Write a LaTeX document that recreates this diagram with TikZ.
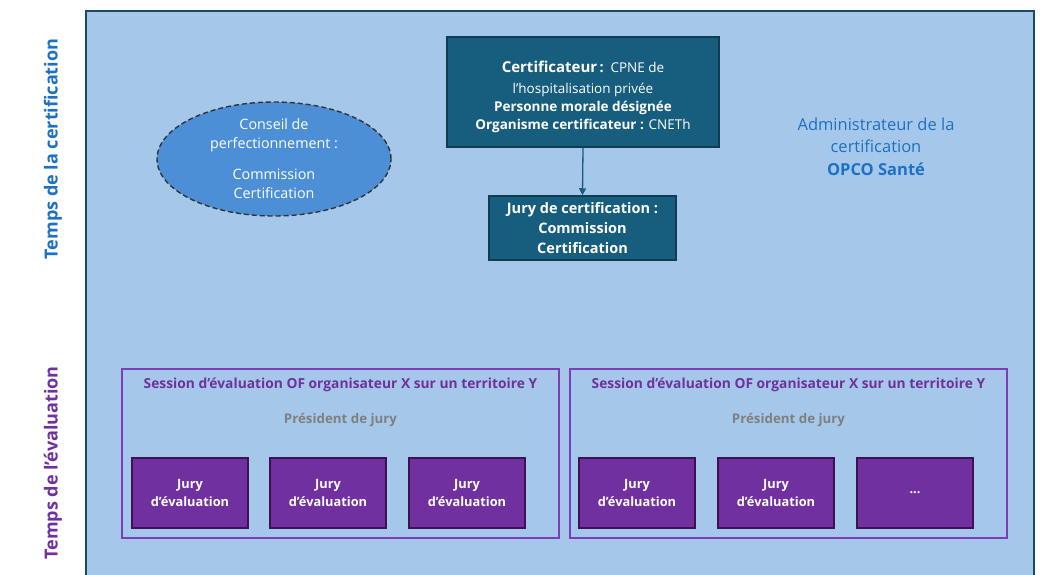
\documentclass[tikz,border=0pt]{standalone}
\usepackage{fontspec}
\setmainfont{Open Sans}
\usetikzlibrary{shapes.geometric,arrows.meta}
\definecolor{bgblue}{HTML}{A5C8EA}
\definecolor{frame}{HTML}{1A4A66}
\definecolor{certfill}{HTML}{175E7E}
\definecolor{certdraw}{HTML}{0F3D52}
\definecolor{ellfill}{HTML}{4D8FD6}
\definecolor{tblue}{HTML}{1E70C2}
\definecolor{purp}{HTML}{7030A0}
\definecolor{purpline}{HTML}{7E3DB8}
\definecolor{jurydraw}{HTML}{3E1155}
\definecolor{grey}{HTML}{7F7F7F}
\tikzset{
  certbox/.style={draw=certdraw, line width=1.5pt, fill=certfill, text=white, align=center, inner sep=0pt, font=\fontsize{13.5}{19}\selectfont},
  jurybox/.style={draw=jurydraw, line width=1.5pt, fill=purp, text=white, align=center, minimum width=116pt, minimum height=70pt, inner sep=0pt, font=\bfseries\fontsize{12.8}{18}\selectfont},
  sessionbox/.style={draw=purpline, line width=1.6pt, minimum width=437pt, minimum height=169pt, inner sep=0pt},
  sidelabel/.style={rotate=90, font=\bfseries\fontsize{18}{20}\selectfont},
}
\begin{document}
\begin{tikzpicture}[x=1pt,y=-1pt]
\useasboundingbox (0,0) rectangle (1045,574);
\clip (0,0) rectangle (1045,574);
\fill[white] (0,0) rectangle (1045,574);
\draw[draw=frame, fill=bgblue, line width=2pt] (86,11) rectangle (1034,590);
\node[sidelabel, text=tblue] (tcert) at (53,149) {Temps de la certification};
\node[sidelabel, text=purp] (teval) at (53,463) {Temps de l’évaluation};
% certificateur
\node[certbox, minimum width=272pt, minimum height=110pt] (cert) at (583,92) {};
\node[text=white, align=center, inner sep=0pt, font=\fontsize{13.5}{19}\selectfont] (certtext) at (583,97) {\textbf{\fontsize{15}{19}\selectfont Certificateur}\,\textbf{\Large :}\, CPNE de\\[2pt] l’hospitalisation privée\\[-1pt] \textbf{Personne morale désignée}\\[-1pt] \textbf{Organisme certificateur :} CNETh};
\node[certbox, minimum width=187pt, minimum height=64pt, font=\bfseries\fontsize{14.5}{20}\selectfont] (jcert) at (582.5,228) {Jury de certification :\\ Commission\\ Certification};
\draw[-{Triangle[length=7pt,width=7pt]}, draw=certfill, line width=1.3pt] (cert.south) -- (jcert.north);
% ellipse
\node[ellipse, draw=black!80, dashed, dash pattern=on 5pt off 3pt, line width=1.4pt, fill=ellfill, minimum width=234pt, minimum height=114pt, inner sep=0pt, text=white, align=center, font=\fontsize{14.3}{19}\selectfont] (conseil) at (274,159) {Conseil de\\ perfectionnement :\\[12pt] Commission\\ Certification};
% administrateur
\node[text=tblue, align=center, font=\fontsize{16.5}{22.5}\selectfont] (admin) at (876,146.5) {Administrateur de la\\ certification\\ \textbf{OPCO Santé}};
% sessions
\foreach \s/\cx in {1/340.5, 2/788.5} {
  \node[sessionbox] (sess\s) at (\cx,453.5) {};
  \node[text=purp, font=\bfseries\fontsize{13.8}{15}\selectfont] (stitle\s) at (\cx,384.5) {Session d’évaluation OF organisateur X sur un territoire Y};
  \node[text=grey, font=\bfseries\fontsize{13.3}{15}\selectfont] (pres\s) at (\cx,420) {Président de jury};
}
\node[jurybox] (j11) at (190,493) {Jury\\ d’évaluation};
\node[jurybox] (j12) at (328,493) {Jury\\ d’évaluation};
\node[jurybox] (j13) at (467,493) {Jury\\ d’évaluation};
\node[jurybox] (j21) at (637,493) {Jury\\ d’évaluation};
\node[jurybox] (j22) at (776,493) {Jury\\ d’évaluation};
\node[jurybox] (j23) at (915,493) {...};
\end{tikzpicture}
\end{document}
